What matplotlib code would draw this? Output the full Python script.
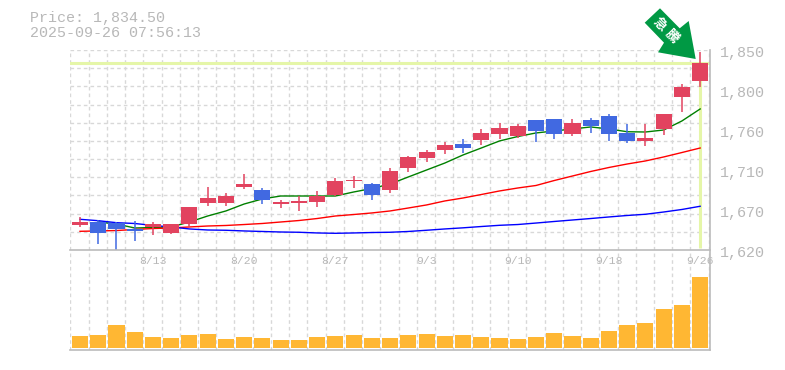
import matplotlib
matplotlib.use('Agg')
import matplotlib.pyplot as plt
from matplotlib.patches import Polygon, Rectangle
import numpy as np

W, H = 785, 370
L, R = 70.3, 710.0          # plot edges in px
TOP, MID, BOT = 50.0, 250.0, 350.0
STEP = 18.24
X0 = -(80 - L) / STEP       # first candle sits at px 80

PMIN, PMAX = 1620.0, 1850.0

price_label = 'Price: 1,834.50'
time_label = '2025-09-26 07:56:13'
last_price = 1834.5

date_idx = [4, 9, 14, 19, 24, 29, 34]
date_lbl = ['8/13', '8/20', '8/27', '9/3', '9/10', '9/18', '9/26']
ytick_vals = [1620, 1666, 1712, 1758, 1804, 1850]
ytick_lbl = ['1,620', '1,670', '1,710', '1,760', '1,800', '1,850']

opens = [1649, 1652.5, 1651.4, 1644.2, 1646, 1640, 1650, 1674, 1674, 1692.5, 1689, 1672.9, 1674, 1675.2, 1683.3,
         1699.4, 1695.9, 1689, 1714.3, 1725.8, 1735, 1741.9, 1746.5, 1753.4, 1751.1, 1769.5, 1770.7, 1753.4, 1769.5, 1774.1,
         1754.6, 1745.4, 1759.2, 1796, 1814.4]
highs = [1658.3, 1654.5, 1652.5, 1653.4, 1652.5, 1650, 1669.5, 1692.1, 1685.6, 1707.4, 1691.3, 1677.5, 1682.1, 1687.9, 1702.8,
         1705.1, 1697, 1714.3, 1728.1, 1735, 1744.2, 1747.7, 1759.2, 1766, 1764.9, 1769.5, 1770.7, 1770.7, 1771.8, 1776.4,
         1764.9, 1764.9, 1776.4, 1810.9, 1847.7]
lows = [1646.8, 1627, 1620, 1630.4, 1637.3, 1638.4, 1646.1, 1670.6, 1670.6, 1690.2, 1672.9, 1668.3, 1664.9, 1669.5, 1682.1,
        1691.3, 1677.5, 1685.6, 1709.7, 1721.2, 1730.4, 1731.6, 1740.8, 1747.7, 1748.8, 1744.5, 1747.7, 1751.1, 1754.6, 1745.4,
        1743.1, 1739.6, 1752.3, 1778.7, 1807.5]
closes = [1652.5, 1640, 1644.2, 1641.9, 1650, 1650, 1669.5, 1680, 1682.1, 1695.9, 1677.5, 1675.2, 1676.4, 1682.1, 1699.4,
          1700.5, 1683.3, 1710.9, 1727, 1732.7, 1740.8, 1737.3, 1754.6, 1760.3, 1762.6, 1756.9, 1753.4, 1766, 1762.6, 1753.4,
          1745.4, 1748.8, 1776.4, 1807.5, 1834.5]

ma_short = [None, 1652.2, 1649.9, 1645.3, 1645.9, 1646.5, 1652.2, 1659.1, 1664.9, 1672.9, 1678.7, 1682.1, 1682.1, 1682.1, 1682.1,
            1686.7, 1690.7, 1695.9, 1704, 1712, 1720, 1729.3, 1737.3, 1745.4, 1750.5, 1754.6, 1756.9, 1759.2, 1761.5, 1759.2,
            1756, 1755.7, 1758, 1768.4, 1782.2]
ma_mid = [1641.5, 1641.9, 1642.4, 1643.6, 1644.7, 1645.3, 1646.5, 1647.6, 1648.2, 1649.3, 1650.5, 1652.2, 1653.9, 1656.2, 1659.1,
          1660.8, 1662.6, 1664.9, 1668.3, 1671.8, 1676.4, 1679.8, 1683.8, 1687.9, 1691.3, 1694.2, 1699.9, 1705.1, 1710.3, 1714.9,
          1718.9, 1722.4, 1727, 1732.1, 1737.3]
ma_long = [1655.3, 1653.7, 1651.4, 1650.5, 1648.2, 1646.5, 1644.2, 1643, 1642.7, 1641.9, 1641.3, 1640.7, 1640.4, 1639.6, 1639.2,
           1639.6, 1640.1, 1640.4, 1641.3, 1642.7, 1644.2, 1645.5, 1647, 1648.4, 1649.3, 1651, 1652.8, 1654.5, 1656.2, 1658,
           1659.7, 1661.1, 1663.7, 1666.6, 1670.3]
volume = [12, 13, 23, 16, 11, 10, 13, 14, 9, 11, 10, 8, 8, 11, 12, 13, 10, 10,
          13, 14, 12, 13, 11, 10, 9, 11, 15, 12, 10, 17, 23, 25, 39, 43, 71]

RED = '#e2435f'
BLUE = '#4169e1'
GRID = '#d8d8d8'
AXIS = '#bbbbbb'
TXT = '#b8b8b8'
HILITE = '#e5f6a8'
MONO = 'Liberation Mono'

fig = plt.figure(figsize=(W / 100, H / 100), dpi=100, facecolor='white')

def make_ax(top, bot):
    ax = fig.add_axes([L / W, 1 - bot / H, (R - L) / W, (bot - top) / H])
    ax.patch.set_alpha(0)
    ax.set_xlim(X0, X0 + (R - L) / STEP)
    for s in ax.spines.values():
        s.set_visible(False)
    ax.set_xticks([])
    ax.set_yticks([])
    return ax

ax = make_ax(TOP, MID)
ax2 = make_ax(MID, BOT)
ax.set_ylim(PMIN, PMAX)
ax2.set_ylim(-2, 98)

idx = np.arange(len(closes))
dash = (0, (2.6, 2.2))

# grid, one dashed line per slot and 11 rows
for a in (ax, ax2):
    for i in range(len(closes) + 1):
        a.axvline(X0 + i, color=GRID, lw=1, ls=dash, zorder=1)
for g in np.linspace(PMIN, PMAX, 12)[1:]:
    ax.axhline(g, color=GRID, lw=1, ls=dash, zorder=1, xmax=0.997)

# last price highlight
ax.axhline(last_price, color=HILITE, lw=2.2, zorder=2, xmax=0.997)
ax.plot([idx[-1], idx[-1]], [PMIN + 2, last_price], color=HILITE, lw=2.2, zorder=2, solid_capstyle='butt')

# moving averages
ma_x = [i for i, v in enumerate(ma_short) if v is not None]
ax.plot(ma_x, [ma_short[i] for i in ma_x], color='#008000', lw=1.0, zorder=3)
ax.plot(idx, ma_mid, color='#ff0000', lw=1.0, zorder=3)
ax.plot(idx, ma_long, color='#0000ff', lw=1.0, zorder=3)

# candles
for i in idx:
    c = RED if closes[i] >= opens[i] else BLUE
    ax.plot([i, i], [lows[i], highs[i]], color=c, lw=1.1, zorder=4, solid_capstyle='butt', clip_on=False)
    ax.add_patch(Rectangle((i - 0.44, min(opens[i], closes[i])), 0.88, abs(closes[i] - opens[i]),
                           fc=c, ec='none', zorder=4))

# volume
ax2.bar(idx, volume, width=0.88, color='#ffb733', zorder=3)

# frame
fig.add_artist(plt.Line2D([L / W, R / W], [1 - MID / H] * 2, color=AXIS, lw=1.2))
fig.add_artist(plt.Line2D([L / W, R / W], [1 - BOT / H] * 2, color=AXIS, lw=1.2))
fig.add_artist(plt.Line2D([R / W] * 2, [1 - TOP / H, 1 - BOT / H], color=AXIS, lw=1.2))

# labels
for i, s in zip(date_idx, date_lbl):
    ax2.text(i, 86.5, s, family=MONO, fontsize=8.2, color=TXT, ha='center', va='center', zorder=6)
for v, s in zip(ytick_vals, ytick_lbl):
    y = MID - (v - PMIN) / (PMAX - PMIN) * (MID - TOP) + 3.5
    fig.text(720 / W, 1 - y / H, s, family=MONO, fontsize=10.8, color=TXT, ha='left', va='center')
fig.text(30 / W, 1 - 18 / H, price_label, family=MONO, fontsize=10.8, color=TXT, ha='left', va='center')
fig.text(30 / W, 1 - 33 / H, time_label, family=MONO, fontsize=10.8, color=TXT, ha='left', va='center')

# arrow badge
arrow = [(660, 8.3), (644.7, 22.7), (664, 42.7), (658, 52.3), (695.7, 59), (688.7, 21), (679.7, 28.3)]
fig.add_artist(Polygon([(x / W, 1 - y / H) for x, y in arrow], closed=True, fc='#009944', ec='none',
                       transform=fig.transFigure, zorder=10))
cjk = ['Noto Sans CJK JP', 'DejaVu Sans']
fig.text(660 / W, 1 - 24 / H, '急', family=cjk, fontsize=9.5, fontweight='bold', color='white',
         rotation=-45, ha='center', va='center', zorder=11)
fig.text(671.5 / W, 1 - 36 / H, '騰', family=cjk, fontsize=9.5, fontweight='bold', color='white',
         rotation=-45, ha='center', va='center', zorder=11)

fig.savefig('out.png', dpi=100)
